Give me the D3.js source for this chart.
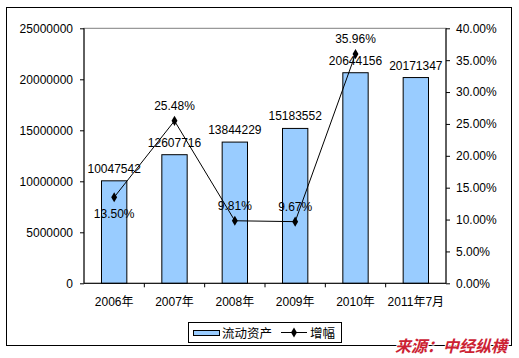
<!DOCTYPE html>
<html><head><meta charset="utf-8">
<script src="https://cdn.jsdelivr.net/npm/d3@7"></script>
<style>
body{margin:0;background:#fff;}
svg text{font-family:"Liberation Sans",Arial,"Noto Sans CJK SC",sans-serif;}
</style></head>
<body><svg id="c" width="519" height="358"></svg>
<script>
const categories = ["2006年","2007年","2008年","2009年","2010年","2011年7月"];
const assets = [10047542,12607716,13844229,15183552,20644156,20171347];
const growth = [0.1350,0.2548,0.0981,0.0967,0.3596,null];
const leftTicks = [0,5000000,10000000,15000000,20000000,25000000];
const rightTicks = [0,0.05,0.10,0.15,0.20,0.25,0.30,0.35,0.40];
const growthLabelSide = ["below","above","above","above","above"];

const svg = d3.select("#c");
const L = 84, R = 446, T = 28.3, B = 283.3;
const fs = 12;

svg.append("rect").attr("x",6.5).attr("y",7.5).attr("width",505).attr("height",338)
  .attr("fill","#fff").attr("stroke","#000").attr("stroke-width",1);

const x = d3.scaleBand().domain(categories).range([L,R]).paddingInner(0.58).paddingOuter(0.29);
const yL = d3.scaleLinear().domain([0,25000000]).range([B,T]);
const yR = d3.scaleLinear().domain([0,0.4]).range([B,T]);
const cx = c => x(c) + x.bandwidth()/2;

// plot area border (gray)
svg.append("rect").attr("x",L).attr("y",T).attr("width",R-L).attr("height",B-T)
  .attr("fill","none").attr("stroke","#808080").attr("stroke-width",1);

// bars
svg.append("g").selectAll("rect").data(assets).join("rect")
  .attr("x",(d,i)=>x(categories[i])).attr("y",d=>yL(d))
  .attr("width",x.bandwidth()).attr("height",d=>B-yL(d))
  .attr("fill","#99CCFF").attr("stroke","#000").attr("stroke-width",1);

// axes
const axL = svg.append("g").attr("transform",`translate(${L},0)`)
  .call(d3.axisLeft(yL).tickValues(leftTicks).tickFormat(d3.format("d")).tickSizeOuter(0).tickSize(4).tickPadding(7));
const axR = svg.append("g").attr("transform",`translate(${R},0)`)
  .call(d3.axisRight(yR).tickValues(rightTicks).tickFormat(d3.format(".2%")).tickSizeOuter(0).tickSize(4).tickPadding(6));
const axB = svg.append("g").attr("transform",`translate(0,${B})`)
  .call(d3.axisBottom(x).tickSize(0).tickPadding(14).tickSizeOuter(0));
[axL,axR,axB].forEach(a=>{
  a.selectAll(".domain").attr("stroke","#000");
  a.selectAll("line").attr("stroke","#000");
  a.selectAll("text").attr("font-size",fs).attr("fill","#000")
    .style("font-family",'"Liberation Sans",Arial,"Noto Sans CJK SC",sans-serif');
});
axL.select(".domain").attr("d",`M0,${T}V${B}`);
axR.select(".domain").attr("d",`M0,${T}V${B}`);
axB.select(".domain").attr("d",`M${L},0H${R}`);
// category separator ticks
const step = x.step();
svg.append("g").selectAll("line").data(categories.slice(1)).join("line")
  .attr("x1",(d,i)=>L+step*(i+1)).attr("x2",(d,i)=>L+step*(i+1))
  .attr("y1",B).attr("y2",B+4).attr("stroke","#000");

// bar labels
svg.append("g").selectAll("text").data(assets).join("text")
  .attr("x",(d,i)=>cx(categories[i])).attr("y",d=>yL(d)-8)
  .attr("text-anchor","middle").attr("font-size",fs).attr("fill","#000")
  .text(d=>d);

// growth line
const gData = growth.map((v,i)=>({c:categories[i],v})).filter(d=>d.v!=null);
svg.append("path").datum(gData)
  .attr("d",d3.line().x(d=>cx(d.c)).y(d=>yR(d.v)))
  .attr("fill","none").attr("stroke","#000").attr("stroke-width",1);
svg.append("g").selectAll("path").data(gData).join("path")
  .attr("transform",d=>`translate(${cx(d.c)},${yR(d.v)})`)
  .attr("d",d3.symbol(d3.symbolDiamond,30))
  .attr("fill","#000");
svg.append("g").selectAll("text").data(gData).join("text")
  .attr("x",d=>cx(d.c)).attr("y",(d,i)=>growthLabelSide[i]==="below"? yR(d.v)+21 : yR(d.v)-11)
  .attr("text-anchor","middle").attr("font-size",fs).attr("fill","#000")
  .text(d=>d3.format(".2%")(d.v));

// legend
const lg = svg.append("g");
lg.append("rect").attr("x",188.5).attr("y",322.5).attr("width",153).attr("height",20)
  .attr("fill","#fff").attr("stroke","#000");
lg.append("rect").attr("x",193.5).attr("y",330.5).attr("width",26).attr("height",5)
  .attr("fill","#99CCFF").attr("stroke","#000");
lg.append("text").attr("x",222).attr("y",337.5).attr("font-size",12.5).text("流动资产");
lg.append("line").attr("x1",281).attr("x2",307).attr("y1",332.5).attr("y2",332.5).attr("stroke","#000");
lg.append("path").attr("transform","translate(294,332.5)").attr("d",d3.symbol(d3.symbolDiamond,30)).attr("fill","#000");
lg.append("text").attr("x",310).attr("y",337.5).attr("font-size",12.5).text("增幅");

// watermark
svg.append("text").attr("x",395).attr("y",352).attr("font-size",16)
  .attr("font-weight","bold").attr("font-style","italic")
  .style("font-family",'"Noto Sans CJK SC",sans-serif')
  .attr("fill","#CC2233").attr("stroke","#fff").attr("stroke-width",2)
  .attr("paint-order","stroke")
  .text("来源：中经纵横");
</script></body></html>
